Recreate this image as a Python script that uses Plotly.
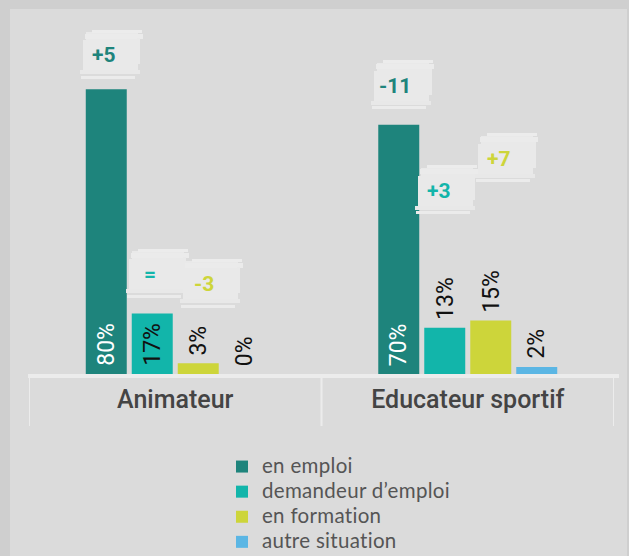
import plotly.graph_objects as go

# ---- data ----
categories = ["Animateur", "Educateur sportif"]
series_names = ["en emploi", "demandeur d\u2019emploi", "en formation", "autre situation"]
emploi = [80, 70]
demandeur = [17, 13]
formation = [3, 15]
autre = [0, 2]
# evolution badges (points) for emploi, demandeur, formation
evo_emploi = ["+5", "-11"]
evo_demandeur = ["=", "+3"]
evo_formation = ["-3", "+7"]

# ---- styles ----
colors = ["#1e847c", "#12b5aa", "#cdd53a", "#5bb6e4"]
W_PX, H_PX = 629, 556
L, R, T, B = 29, 614, 18, 374
PW, PH = R - L, B - T
BARGAP, GROUPGAP = 0.371, 0.109


def xp(px):
    return (px - L) / PW


def yp(py):
    return (B - py) / PH


fig = go.Figure()
values = [emploi, demandeur, formation, autre]
for i, (name, vals) in enumerate(zip(series_names, values)):
    fig.add_trace(go.Bar(
        x=categories, y=vals,
        name=f'<span style="font-size:20.5px;letter-spacing:0.3px">{name}</span>',
        marker=dict(color=colors[i], line=dict(width=0)),
        hoverinfo="skip",
    ))

shapes = [
    # inner panel
    dict(type="rect", xref="paper", yref="paper", x0=xp(10), x1=xp(627), y0=yp(570), y1=yp(9),
         fillcolor="#dbdbdb", line=dict(width=0), layer="below"),
    # axis line
    dict(type="line", xref="paper", yref="paper", x0=xp(28), x1=xp(619), y0=yp(376), y1=yp(376),
         line=dict(color="#ececec", width=4), layer="above"),
]
for b in [-0.5, 0.5, 1.5]:
    shapes.append(dict(type="line", xref="x", yref="paper", x0=b, x1=b, y0=yp(378), y1=yp(426),
                       line=dict(color="#ececec", width=2)))

slot = (1 - BARGAP) / 4
annotations = []

# value labels (rotated), inside the bar when it is tall enough
for s in range(4):
    for c in range(len(categories)):
        xc = c + (s - 1.5) * slot
        v = values[s][c]
        inside = (s == 0) or v >= 17
        annotations.append(dict(
            x=xc, y=0 if inside else v, xref="x", yref="y", text=f"{v}%",
            textangle=-90, showarrow=False, xanchor="center", yanchor="bottom",
            yshift=7, borderpad=0,
            font=dict(family="Roboto", size=23, color="white" if s == 0 else "#111111")))

# badges: pixel offsets from bar centre / bar top (layout only)
badge_dx = [[-2.5, -3.5], [-2.5, -6], [5.5, 8.5]]
badge_dy = [[34, 39], [39, 137], [79, 162]]
evos = [evo_emploi, evo_demandeur, evo_formation]
for s in range(3):
    for c in range(len(categories)):
        xc = c + (s - 1.5) * slot
        yv = values[s][c]
        # rough brush strokes behind the badge text
        for (w, h, ox, oy, col) in [(52, 42, 8, 2, "#e9e9e9"), (58, 5, 10, 19, "#ebebeb"),
                                    (60, 4, 6, -17, "#e8e8e8"), (50, 3, 13, 24, "#ececec"),
                                    (54, 3, 4, -22, "#ebebeb"), (4, 30, -19, 0, "#e9e9e9"),
                                    (3, 26, 35, 4, "#e9e9e9")]:
            annotations.append(dict(x=xc, y=yv, xref="x", yref="y", text="", showarrow=False,
                                    width=w, height=h, bgcolor=col, borderpad=0, borderwidth=0,
                                    xshift=badge_dx[s][c] + ox, yshift=badge_dy[s][c] + oy))
        annotations.append(dict(x=xc, y=yv, xref="x", yref="y", text=f"<b>{evos[s][c]}</b>",
                                showarrow=False, font=dict(family="Roboto", size=21, color=colors[s]),
                                xshift=badge_dx[s][c], yshift=badge_dy[s][c]))

fig.update_layout(
    width=W_PX, height=H_PX,
    margin=dict(l=L, r=W_PX - R, t=T, b=H_PX - B, pad=0, autoexpand=False),
    paper_bgcolor="#cfcfcf", plot_bgcolor="rgba(0,0,0,0)",
    barmode="group", bargap=BARGAP, bargroupgap=GROUPGAP,
    showlegend=True,
    legend=dict(x=xp(222), y=yp(449), xanchor="left", yanchor="top",
                font=dict(family="Lato", size=17, color="#555555"),
                bgcolor="rgba(0,0,0,0)", tracegroupgap=0, itemclick=False),
    xaxis=dict(type="category", range=[-0.5, 1.5], showgrid=False, zeroline=False, showline=False,
               ticks="", tickfont=dict(family="Roboto", size=25, color="#444444", weight=500),
               ticklabelstandoff=8, automargin=False),
    yaxis=dict(range=[0, 100], visible=False, showgrid=False, zeroline=False, automargin=False),
    shapes=shapes, annotations=annotations,
)

fig.write_html("out.html", config={"displayModeBar": False},
               post_script="document.body.style.margin='0';")
